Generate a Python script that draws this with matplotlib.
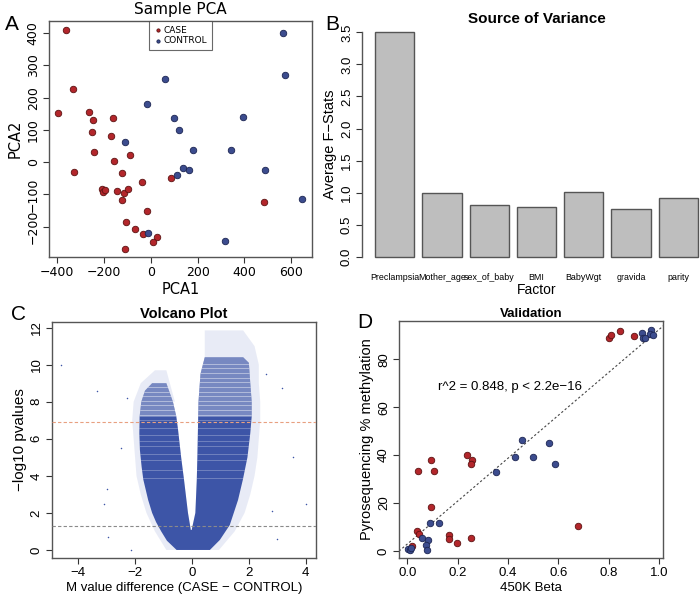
import matplotlib.pyplot as plt
from matplotlib.patches import Polygon, Rectangle

# ---------- A: Sample PCA ----------
case_pc1 = [-362, -333, -397, -261, -248, -252, -241, -329, -159, -169, -157, -88, -121,
            -209, -204, -197, -142, -115, -95, -121, -38, -14, -105, -68, -34, 26, 11,
            -108, 85, 485]
case_pc2 = [409, 226, 154, 157, 131, 93, 31, -29, 138, 82, 3, 22, -33,
            -82, -91, -86, -89, -96, -84, -116, -61, -151, -185, -206, -223, -233, -247,
            -270, -48, -123]
ctrl_pc1 = [563, 572, 60, -14, 99, 119, 394, -111, 180, 343, 136, 163, 112, 489, 644, -11, 319]
ctrl_pc2 = [400, 270, 257, 182, 138, 101, 139, 62, 37, 39, -19, -25, -39, -25, -115, -221, -245]

# ---------- B: Source of variance ----------
factors = ["Preclampsia", "Mother_age", "sex_of_baby", "BMI", "BabyWgt", "gravida", "parity"]
fstats = [3.51, 1.00, 0.81, 0.775, 1.01, 0.745, 0.91]

# ---------- C: Volcano (envelope) ----------
left_outer_y = [0.0, 0.5, 1.0, 1.5, 2.0, 2.7, 3.8, 4.5, 5.4, 6.3, 7.2, 8.0, 8.6, 9.0]
left_outer_x = [-0.54, -0.88, -1.08, -1.26, -1.40, -1.54, -1.71, -1.77, -1.83, -1.85, -1.84, -1.78, -1.65, -1.4]
left_inner_y = [9.0, 8.0, 7.2, 6.5, 5.0, 3.8, 2.0, 1.08]
left_inner_x = [-0.9, -0.67, -0.55, -0.49, -0.38, -0.28, -0.14, -0.04]
right_inner_y = [1.08, 2.0, 3.8, 5.0, 6.5, 8.0, 9.5, 10.4]
right_inner_x = [-0.01, 0.12, 0.17, 0.19, 0.21, 0.23, 0.3, 0.45]
right_outer_y = [10.4, 10.1, 9.0, 8.0, 7.2, 6.3, 5.0, 3.8, 2.7, 1.35, 0.54, 0.0]
right_outer_x = [1.8, 2.0, 2.05, 2.1, 2.1, 2.05, 1.95, 1.79, 1.62, 1.33, 0.98, 0.63]

halo_left_y = [0.0, 1.0, 2.0, 3.0, 4.0, 5.0, 6.0, 7.0, 8.0, 9.0, 9.7]
halo_left_x = [-0.9, -1.3, -1.6, -1.8, -1.95, -2.0, -2.05, -2.1, -2.05, -1.8, -1.3]
halo_left_top_x = [-0.9, -0.6]
halo_left_top_y = [9.7, 8.0]
halo_right_top_x = [0.45, 1.8]
halo_right_top_y = [11.85, 11.85]
halo_right_y = [11.0, 10.0, 9.0, 8.0, 7.0, 6.0, 5.0, 4.0, 3.0, 2.0, 1.0, 0.0]
halo_right_x = [2.2, 2.35, 2.35, 2.4, 2.4, 2.35, 2.3, 2.2, 2.05, 1.85, 1.5, 0.95]
streaks_y = [3.9, 4.3, 4.85, 5.2, 5.6, 5.9, 6.2, 6.6, 7.0, 7.3, 7.55, 7.8, 8.05, 8.3, 8.55,
             8.8, 9.05, 9.3, 9.55, 9.8, 10.05]
sparse_above = 7.2

outlier_x = [-4.6, -3.35, 3.54, 4.0, 3.18, -2.97, -3.1, -2.96, -2.15, 2.8, -2.5, 2.6, -2.3, 3.0]
outlier_y = [10.0, 8.6, 5.04, 2.48, 8.72, 3.27, 2.5, 0.68, 0.0, 2.1, 5.5, 9.5, 8.2, 0.6]

bonf_line = 6.89
p05_line = 1.301

# ---------- D: Validation ----------
case_beta = [0.799, 0.807, 0.845, 0.899, 0.093, 0.042, 0.107, 0.235, 0.255, 0.253, 0.094,
             0.037, 0.048, 0.019, 0.164, 0.164, 0.196, 0.251, 0.679]
case_pyro = [89.0, 90.0, 92.0, 89.9, 37.8, 33.3, 33.5, 40.2, 38.0, 36.5, 18.4,
             8.5, 7.2, 2.1, 6.5, 5.0, 3.2, 5.4, 10.4]
ctrl_beta = [0.931, 0.967, 0.963, 0.974, 0.934, 0.942, 0.455, 0.426, 0.497, 0.561, 0.587,
             0.352, 0.090, 0.126, 0.057, 0.082, 0.074, 0.077, 0.004, 0.011, 0.015]
ctrl_pyro = [91.1, 92.1, 90.7, 90.0, 89.0, 89.0, 46.3, 39.1, 39.4, 44.9, 36.3,
             33.0, 11.7, 11.7, 5.6, 4.6, 2.6, 0.4, 1.0, 0.4, 1.4]
fit_intercept = 2.9
fit_slope = 89.6

RED = "#b3262b"
RED_E = "#5c1212"
BLUE = "#3c4c8e"
BLUE_E = "#1c2552"
VBLUE = "#3d55a7"
SPINE = "#555555"


def r_style(ax, family, size=9.5):
    for s in ax.spines.values():
        s.set_color(SPINE)
        s.set_linewidth(1.0)
    ax.tick_params(direction="out", length=4.5, width=0.8, color="#333333",
                   labelsize=size, pad=2)
    for lab in ax.get_xticklabels() + ax.get_yticklabels():
        lab.set_family(family)
    for lab in ax.get_yticklabels():
        lab.set_rotation(90)
        lab.set_va("center")


fig = plt.figure(figsize=(7, 6.02), dpi=100)

# ---- A ----
axA = fig.add_axes([48.7 / 700, 1 - 257 / 602, 263.3 / 700, 236 / 602])
axA.scatter(case_pc1, case_pc2, s=22, c=RED, edgecolors=RED_E, linewidths=0.6, label="CASE", zorder=3)
axA.scatter(ctrl_pc1, ctrl_pc2, s=22, c=BLUE, edgecolors=BLUE_E, linewidths=0.6, label="CONTROL", zorder=3)
axA.set_xlim(-435, 688)
axA.set_ylim(-294, 438)
axA.set_xticks([-400, -200, 0, 200, 400, 600])
axA.set_yticks([-200, -100, 0, 100, 200, 300, 400])
r_style(axA, "DejaVu Sans", 9)
axA.set_xlabel("PCA1", fontsize=10.5, family="DejaVu Sans", labelpad=2)
axA.set_ylabel("PCA2", fontsize=10.5, family="DejaVu Sans", labelpad=3)
axA.set_title("Sample PCA", fontsize=11, family="DejaVu Sans", pad=5)
leg = axA.legend(loc="upper center", borderaxespad=0, fancybox=False, markerscale=0.5,
                 prop={"family": "DejaVu Sans", "size": 6.5}, handletextpad=0.2,
                 handlelength=1.0, borderpad=0.5, labelspacing=0.2)
leg.get_frame().set_edgecolor("#444444")
leg.get_frame().set_linewidth(0.8)

# ---- B ----
axB = fig.add_axes([362 / 700, 1 - 265.7 / 602, 349 / 700, 242.3 / 602])
pos = [0.7 + 1.2 * i for i in range(len(factors))]
axB.bar(pos, fstats, width=1.0, color="#bebebe", edgecolor="#555555", linewidth=1.0)
axB.set_xlim(-0.128, 8.728)
axB.set_ylim(-0.14, 3.64)
for side in ["top", "right", "bottom"]:
    axB.spines[side].set_visible(False)
axB.spines["left"].set_bounds(0, 3.5)
axB.set_yticks([0, 0.5, 1.0, 1.5, 2.0, 2.5, 3.0, 3.5])
axB.set_yticklabels(["0.0", "0.5", "1.0", "1.5", "2.0", "2.5", "3.0", "3.5"])
axB.set_xticks(pos)
axB.set_xticklabels(factors)
r_style(axB, "Liberation Sans")
axB.tick_params(axis="x", length=0, pad=5, labelsize=6.4)
axB.set_xlabel("Factor", fontsize=10, family="Liberation Sans", labelpad=1)
axB.set_ylabel("Average F\u2212Stats", fontsize=10.5, family="Liberation Sans", labelpad=3)
axB.set_title("Source of Variance", fontsize=11, family="Liberation Sans", fontweight="bold", y=1.0, pad=0.5)

# ---- C ----
axC = fig.add_axes([51.7 / 700, 1 - 558.3 / 602, 264.3 / 700, 236.6 / 602])
halo = list(zip(halo_left_x, halo_left_y)) + list(zip(halo_left_top_x, halo_left_top_y)) \
    + list(zip(left_inner_x[1:], left_inner_y[1:])) + list(zip(right_inner_x, right_inner_y)) \
    + list(zip(halo_right_top_x, halo_right_top_y)) + list(zip(halo_right_x, halo_right_y))
axC.add_patch(Polygon(halo, closed=True, facecolor="#6a7cc4", edgecolor="none", alpha=0.15, zorder=1))
core = list(zip(left_outer_x, left_outer_y)) + list(zip(left_inner_x, left_inner_y)) \
    + list(zip(right_inner_x, right_inner_y)) + list(zip(right_outer_x, right_outer_y))
core_patch = Polygon(core, closed=True, facecolor=VBLUE, edgecolor="none", zorder=2)
axC.add_patch(core_patch)
upper = Rectangle((-3, sparse_above), 6, 6, facecolor="white", alpha=0.3, edgecolor="none", zorder=3)
axC.add_patch(upper)
upper.set_clip_path(core_patch)
for yy in streaks_y:
    ln = axC.axhline(yy, color="white", alpha=0.3 if yy < sparse_above else 0.5, linewidth=0.6, zorder=3)
    ln.set_clip_path(core_patch)
axC.scatter(outlier_x, outlier_y, s=1.2, c=VBLUE, linewidths=0, zorder=3)
axC.axhline(bonf_line, color="#e8a080", linestyle=(0, (3, 2)), linewidth=0.8, zorder=4)
axC.axhline(p05_line, color="#8a8a8a", linestyle=(0, (3, 2)), linewidth=0.8, zorder=4)
axC.set_xlim(-4.93, 4.36)
axC.set_ylim(-0.45, 12.32)
axC.set_xticks([-4, -2, 0, 2, 4])
axC.set_yticks([0, 2, 4, 6, 8, 10, 12])
r_style(axC, "Liberation Sans")
axC.set_xlabel("M value difference (CASE \u2212 CONTROL)", fontsize=9.5, family="Liberation Sans", labelpad=2)
axC.set_ylabel("\u2212log10 pvalues", fontsize=11, family="Liberation Sans", labelpad=3)
axC.set_title("Volcano Plot", fontsize=10.5, family="Liberation Sans", fontweight="bold", pad=3)

# ---- D ----
axD = fig.add_axes([399 / 700, 1 - 558.3 / 602, 264.3 / 700, 237.6 / 602])
axD.axline((0, fit_intercept), slope=fit_slope, color="#444444", linestyle=(0, (2, 2)), linewidth=0.8, zorder=1)
axD.scatter(case_beta, case_pyro, s=22, c=RED, edgecolors=RED_E, linewidths=0.6, zorder=3)
axD.scatter(ctrl_beta, ctrl_pyro, s=22, c=BLUE, edgecolors=BLUE_E, linewidths=0.6, zorder=3)
axD.text(0.407, 68.3, "r^2 = 0.848, p < 2.2e\u221216", ha="center", va="center", fontsize=9.5,
         family="Liberation Sans")
axD.set_xlim(-0.033, 1.016)
axD.set_ylim(-3.06, 96.1)
axD.set_xticks([0.0, 0.2, 0.4, 0.6, 0.8, 1.0])
axD.set_xticklabels(["0.0", "0.2", "0.4", "0.6", "0.8", "1.0"])
axD.set_yticks([0, 20, 40, 60, 80])
r_style(axD, "Liberation Sans")
axD.set_xlabel("450K Beta", fontsize=9.5, family="Liberation Sans", labelpad=2)
axD.set_ylabel("Pyrosequencing % methylation", fontsize=10.5, family="Liberation Sans", labelpad=3)
axD.set_title("Validation", fontsize=9.5, family="Liberation Sans", fontweight="bold", pad=3)

# panel letters
fig.text(12 / 700, 1 - 25 / 602, "A", fontsize=15, family="Liberation Sans", ha="center", va="center")
fig.text(332 / 700, 1 - 25 / 602, "B", fontsize=15, family="Liberation Sans", ha="center", va="center")
fig.text(18 / 700, 1 - 315 / 602, "C", fontsize=15, family="Liberation Sans", ha="center", va="center")
fig.text(365 / 700, 1 - 323 / 602, "D", fontsize=15, family="Liberation Sans", ha="center", va="center")

fig.savefig("out.png", dpi=100)
